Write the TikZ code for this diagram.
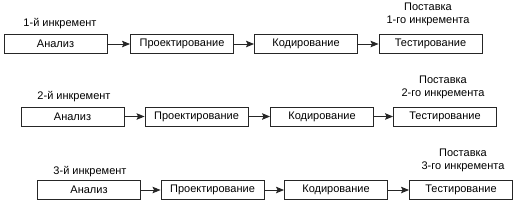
\documentclass[tikz,border=0pt]{standalone}
\usepackage{fontspec}
\setmainfont{Liberation Sans}
\usetikzlibrary{arrows.meta}
\begin{document}
\begin{tikzpicture}[x=1pt,y=-1pt,
  stagebox/.style={draw=black!85,line width=0.9pt,minimum width=103pt,minimum height=19pt,inner sep=0pt,font=\fontsize{11}{13}\selectfont},
  lbl/.style={inner sep=0pt,font=\fontsize{11}{13}\selectfont,align=center},
  arr/.style={draw=black!85,line width=0.9pt,-{Stealth[length=8pt,width=6.5pt,inset=1.5pt]}}]
\useasboundingbox (0,0) rectangle (518,204);
% row 1
\node[stagebox] (a1) at (55.5,44) {Анализ};
\node[stagebox] (b1) at (182,44) {Проектирование};
\node[stagebox] (c1) at (306,44) {Кодирование};
\node[stagebox] (d1) at (430.5,44) {Тестирование};
\node[lbl] (l1) at (60,24) {1-й инкремент};
\node[lbl] (p1) at (428,14) {Поставка\\1-го инкремента};
\draw[arr] (a1) -- (b1);
\draw[arr] (b1) -- (c1);
\draw[arr] (c1) -- (d1);
% row 2
\node[stagebox] (a2) at (72.5,116.5) {Анализ};
\node[stagebox] (b2) at (196.5,116.5) {Проектирование};
\node[stagebox] (c2) at (322,116.5) {Кодирование};
\node[stagebox] (d2) at (445,116.5) {Тестирование};
\node[lbl] (l2) at (74,97) {2-й инкремент};
\node[lbl] (p2) at (443,87.5) {Поставка\\2-го инкремента};
\draw[arr] (a2) -- (b2);
\draw[arr] (b2) -- (c2);
\draw[arr] (c2) -- (d2);
% row 3
\node[stagebox] (a3) at (89,190) {Анализ};
\node[stagebox] (b3) at (212.5,190) {Проектирование};
\node[stagebox] (c3) at (336,190) {Кодирование};
\node[stagebox] (d3) at (461,190) {Тестирование};
\node[lbl] (l3) at (90,172) {3-й инкремент};
\node[lbl] (p3) at (463,160) {Поставка\\3-го инкремента};
\draw[arr] (a3) -- (b3);
\draw[arr] (b3) -- (c3);
\draw[arr] (c3) -- (d3);
\end{tikzpicture}
\end{document}
